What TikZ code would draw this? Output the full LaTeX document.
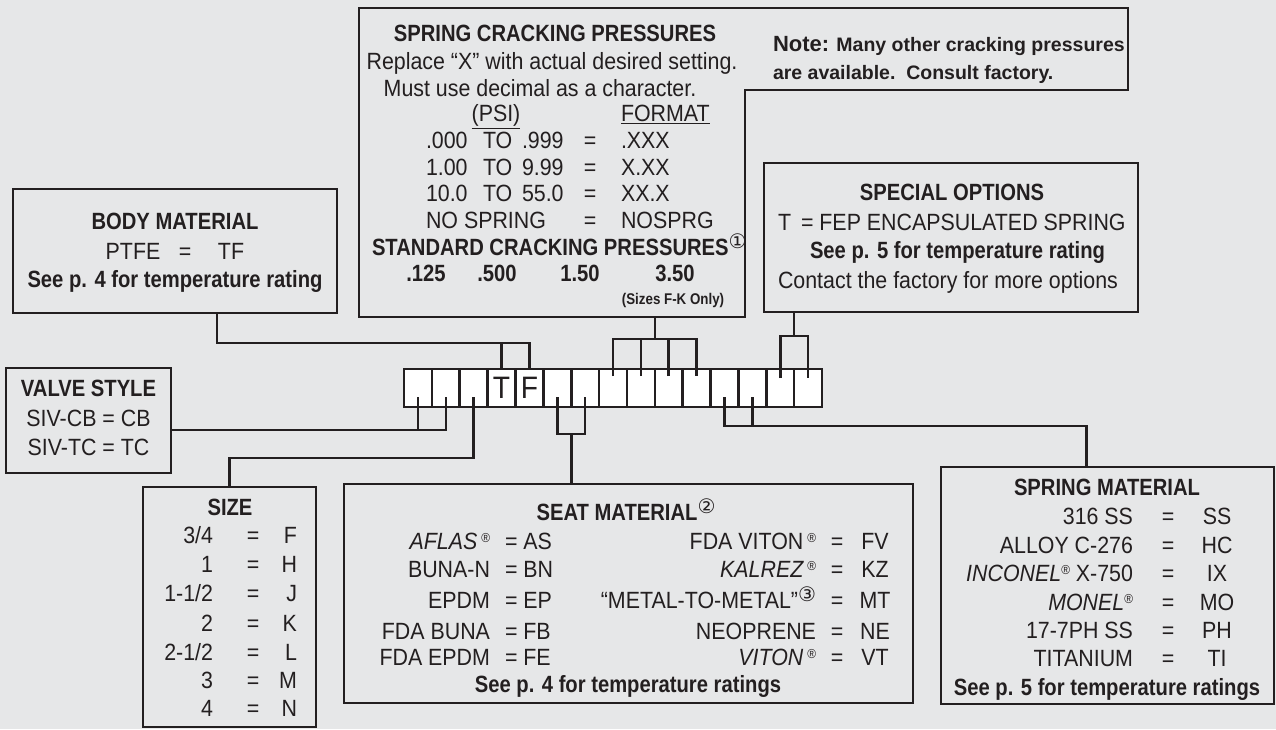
\documentclass[tikz,border=0pt]{standalone}
\usepackage{fontspec}
\setmainfont{Liberation Sans}[FakeStretch=0.91,BoldFeatures={FakeStretch=0.86},ItalicFeatures={FakeStretch=0.91}]
\newfontfamily\plainfont{Liberation Sans}
\newfontfamily\djv{DejaVu Sans}
\usetikzlibrary{calc}
\definecolor{bgc}{HTML}{E6E7E8}
\definecolor{lc}{HTML}{231F20}
\newcommand\fsN{\fontsize{23.5}{26}\selectfont}
\newcommand\circnum[1]{\raisebox{7pt}{\djv\mdseries\upshape\fontsize{20}{20}\selectfont #1}}
\newcommand\regmk{\raisebox{7pt}{\fontsize{13}{13}\selectfont\mdseries\upshape ®}}
\begin{document}
\begin{tikzpicture}[x=1pt,y=-1pt,
  box/.style={draw=lc,line width=2.6pt,rectangle,inner sep=0pt,outer sep=0pt},
  cell/.style={box,fill=white,minimum width=27.87pt,minimum height=38pt},
  conn/.style={draw=lc,line width=2.6pt},
  tx/.style={inner sep=0pt,outer sep=0pt,text=lc,font=\fsN,anchor=base},
  tl/.style={tx,anchor=base west},
  tr/.style={tx,anchor=base east},
  tb/.style={tx,font=\fsN\bfseries},
  tbl/.style={tb,anchor=base west}]
\fill[bgc] (0,0) rectangle (1276,729);
\useasboundingbox (0,0) rectangle (1276,729);

% boxes
\node[box,minimum width=324pt,minimum height=124pt] (body) at (175,251) {};
\node[box,minimum width=165pt,minimum height=105pt] (valve) at (88.5,420.5) {};
\node[box,minimum width=173pt,minimum height=240pt] (size) at (229.5,607) {};
\node[box,minimum width=569pt,minimum height=219pt] (seat) at (628.5,593.5) {};
\node[box,minimum width=333pt,minimum height=237pt] (springm) at (1107.5,585.5) {};
\node[box,minimum width=374pt,minimum height=149pt] (spec) at (951,237.5) {};
\draw[conn] (359,8) -- (1128,8) -- (1128,90) -- (745,90) -- (745,317) -- (359,317) -- cycle;
\coordinate (scpb) at (656,317);

% code strip
\foreach \i in {1,...,15} \node[cell] (c\i) at ({404+27.87*(\i-0.5)},388) {};
\node[tx,font=\fontsize{31}{31}\selectfont] (tT) at (c4.center |- 0,398) {T};
\node[tx,font=\fontsize{31}{31}\selectfont] (tF) at (c5.center |- 0,398) {F};

% connectors
\coordinate (bmc) at ([xshift=42pt]body.south);
\draw[conn] (bmc) |- (c5.north |- 0,343) -- (c5.north);
\draw[conn] (c4.north |- 0,343) -- (c4.north);

\coordinate (m910) at ($(c9.north)!.5!(c10.north)$);
\draw[conn] (scpb -| m910) -- (m910 |- 0,339);
\draw[conn] ([yshift=-7pt]c8.north) -- (c8.north |- 0,339) -- (c11.north |- 0,339) -- ([yshift=-7pt]c11.north);
\draw[conn] ([yshift=-7pt]c9.north) -- (c9.north |- 0,339);
\draw[conn] ([yshift=-7pt]c10.north) -- (c10.north |- 0,339);

\coordinate (m1415) at ($(c14.north)!.5!(c15.north)$);
\draw[conn] (m1415 |- spec.south) -- (m1415 |- 0,336);
\draw[conn] ([yshift=-9pt]c14.north) -- (c14.north |- 0,336) -- (c15.north |- 0,336) -- ([yshift=-9pt]c15.north);

\draw[conn] ([yshift=10pt]c1.south) -- (c1.south |- 0,430);
\draw[conn] (valve.east |- 0,430) -| ([yshift=10pt]c2.south);

\draw[conn] ([yshift=10pt]c3.south) |- (size.north |- 0,458) -- (size.north);

\coordinate (m67) at ($(c6.south)!.5!(c7.south)$);
\draw[conn] ([yshift=10pt]c6.south) -- (c6.south |- 0,434) -- (c7.south |- 0,434) -- ([yshift=10pt]c7.south);
\draw[conn] (m67 |- 0,434) -- (m67 |- seat.north);

\coordinate (smc) at ([xshift=-21pt]springm.north);
\draw[conn] ([yshift=10pt]c12.south) |- (smc |- 0,426) -- (smc);
\draw[conn] ([yshift=10pt]c13.south) -- (c13.south |- 0,426);

% spring cracking pressures
\node[tb] (scp1) at (555,41.5) {SPRING CRACKING PRESSURES};
\node[tx] (scp2) at (552,69.5) {Replace “X” with actual desired setting.};
\node[tx] (scp3) at (540,96.5) {Must use decimal as a character.};
\node[tx] (scp4) at (496,121.5) {\underline{(PSI)}};
\node[tl] (scp5) at (621,121.5) {\underline{FORMAT}};
\node[tl] (r1a) at (426,148.5) {.000};
\node[tl] (r1b) at (483,148.5) {TO};
\node[tl] (r1c) at (522,148.5) {.999};
\node[tx] (r1d) at (590,148.5) {=};
\node[tl] (r1e) at (621,148.5) {.XXX};
\node[tl] (r2a) at (426,175.5) {1.00};
\node[tl] (r2b) at (483,175.5) {TO};
\node[tl] (r2c) at (522,175.5) {9.99};
\node[tx] (r2d) at (590,175.5) {=};
\node[tl] (r2e) at (621,175.5) {X.XX};
\node[tl] (r3a) at (426,201.5) {10.0};
\node[tl] (r3b) at (483,201.5) {TO};
\node[tl] (r3c) at (522,201.5) {55.0};
\node[tx] (r3d) at (590,201.5) {=};
\node[tl] (r3e) at (621,201.5) {XX.X};
\node[tl] (r4a) at (426,228.5) {NO SPRING};
\node[tx] (r4d) at (590,228.5) {=};
\node[tl] (r4e) at (621,228.5) {NOSPRG};
\node[tbl] (std) at (372,255.5) {STANDARD CRACKING PRESSURES\circnum{①}};
\node[tb] (v1) at (426,281.5) {.125};
\node[tb] (v2) at (497,281.5) {.500};
\node[tb] (v3) at (580,281.5) {1.50};
\node[tb] (v4) at (675,281.5) {3.50};
\node[tx,font=\fontsize{15.5}{16}\selectfont\bfseries] (fk) at (673,304) {(Sizes F-K Only)};

% note
\node[tl,font=\plainfont\bfseries\fontsize{19.5}{20}\selectfont] (note1) at (773,51) {{\fontsize{22}{22}\selectfont Note:} Many other cracking pressures};
\node[tl,font=\plainfont\bfseries\fontsize{19.5}{20}\selectfont] (note2) at (773,79.5) {are available.\ \ Consult factory.};

% special options
\node[tb] (so1) at (952,200.5) {SPECIAL OPTIONS};
\node[tl] (so2) at (778,230.5) {T};
\node[tl] (so3) at (801,230.5) {= FEP ENCAPSULATED SPRING};
\node[tbl] (so4) at (810,258.5) {See p. 5 for temperature rating};
\node[tl] (so5) at (778,288.5) {Contact the factory for more options};

% body material
\node[tb] (bm1) at (175,229.5) {BODY MATERIAL};
\node[tx] (bm2) at (133,259.5) {PTFE};
\node[tx] (bm3) at (185,259.5) {=};
\node[tx] (bm4) at (231,259.5) {TF};
\node[tb] (bm5) at (175,287.5) {See p. 4 for temperature rating};

% valve style
\node[tb] (vs1) at (88.5,396.5) {VALVE STYLE};
\node[tx] (vs2) at (88.5,426.5) {SIV-CB = CB};
\node[tx] (vs3) at (88.5,455.5) {SIV-TC = TC};

% size
\node[tb] (sz0) at (230,515.5) {SIZE};
\node[tr] (sz1a) at (213,543.5) {3/4};   \node[tx] (sz1b) at (253,543.5) {=}; \node[tr] (sz1c) at (297,543.5) {F};
\node[tr] (sz2a) at (213,572.5) {1};     \node[tx] (sz2b) at (253,572.5) {=}; \node[tr] (sz2c) at (297,572.5) {H};
\node[tr] (sz3a) at (213,601.5) {1-1/2}; \node[tx] (sz3b) at (253,601.5) {=}; \node[tr] (sz3c) at (297,601.5) {J};
\node[tr] (sz4a) at (213,631.5) {2};     \node[tx] (sz4b) at (253,631.5) {=}; \node[tr] (sz4c) at (297,631.5) {K};
\node[tr] (sz5a) at (213,660.5) {2-1/2}; \node[tx] (sz5b) at (253,660.5) {=}; \node[tr] (sz5c) at (297,660.5) {L};
\node[tr] (sz6a) at (213,688.5) {3};     \node[tx] (sz6b) at (253,688.5) {=}; \node[tr] (sz6c) at (297,688.5) {M};
\node[tr] (sz7a) at (213,716.5) {4};     \node[tx] (sz7b) at (253,716.5) {=}; \node[tr] (sz7c) at (297,716.5) {N};

% seat material
\node[tb] (st0) at (626,520) {SEAT MATERIAL\circnum{②}};
\node[tr] (st1a) at (490,549.5) {{\itshape AFLAS}\,\regmk};  \node[tl] (st1b) at (505,549.5) {= AS};
\node[tr] (st2a) at (490,577.5) {BUNA-N};                   \node[tl] (st2b) at (505,577.5) {= BN};
\node[tr] (st3a) at (490,608.5) {EPDM};                     \node[tl] (st3b) at (505,608.5) {= EP};
\node[tr] (st4a) at (490,639.5) {FDA BUNA};                 \node[tl] (st4b) at (505,639.5) {= FB};
\node[tr] (st5a) at (490,665.5) {FDA EPDM};                 \node[tl] (st5b) at (505,665.5) {= FE};
\node[tr] (st6a) at (816,549.5) {FDA VITON\,\regmk};        \node[tx] (st6b) at (837,549.5) {=}; \node[tx] (st6c) at (875,549.5) {FV};
\node[tr] (st7a) at (816,577.5) {{\itshape KALREZ}\,\regmk}; \node[tx] (st7b) at (837,577.5) {=}; \node[tx] (st7c) at (875,577.5) {KZ};
\node[tr] (st8a) at (816,608.5) {“METAL-TO-METAL”\circnum{③}}; \node[tx] (st8b) at (837,608.5) {=}; \node[tx] (st8c) at (875,608.5) {MT};
\node[tr] (st9a) at (816,639.5) {NEOPRENE};                 \node[tx] (st9b) at (837,639.5) {=}; \node[tx] (st9c) at (875,639.5) {NE};
\node[tr] (st10a) at (816,665.5) {{\itshape VITON}\,\regmk}; \node[tx] (st10b) at (837,665.5) {=}; \node[tx] (st10c) at (875,665.5) {VT};
\node[tb] (st11) at (628,692.5) {See p. 4 for temperature ratings};

% spring material
\node[tb] (sp0) at (1107,495.5) {SPRING MATERIAL};
\node[tr] (sp1a) at (1133,524.5) {316 SS};                       \node[tx] (sp1b) at (1168,524.5) {=}; \node[tx] (sp1c) at (1217,524.5) {SS};
\node[tr] (sp2a) at (1133,553.5) {ALLOY C-276};                  \node[tx] (sp2b) at (1168,553.5) {=}; \node[tx] (sp2c) at (1217,553.5) {HC};
\node[tr] (sp3a) at (1133,581.5) {{\itshape INCONEL}\regmk{} X-750}; \node[tx] (sp3b) at (1168,581.5) {=}; \node[tx] (sp3c) at (1217,581.5) {IX};
\node[tr] (sp4a) at (1133,610.5) {{\itshape MONEL}\regmk};       \node[tx] (sp4b) at (1168,610.5) {=}; \node[tx] (sp4c) at (1217,610.5) {MO};
\node[tr] (sp5a) at (1133,638.5) {17-7PH SS};                    \node[tx] (sp5b) at (1168,638.5) {=}; \node[tx] (sp5c) at (1217,638.5) {PH};
\node[tr] (sp6a) at (1133,666.5) {TITANIUM};                     \node[tx] (sp6b) at (1168,666.5) {=}; \node[tx] (sp6c) at (1217,666.5) {TI};
\node[tb] (sp7) at (1107,695.5) {See p. 5 for temperature ratings};
\end{tikzpicture}
\end{document}
